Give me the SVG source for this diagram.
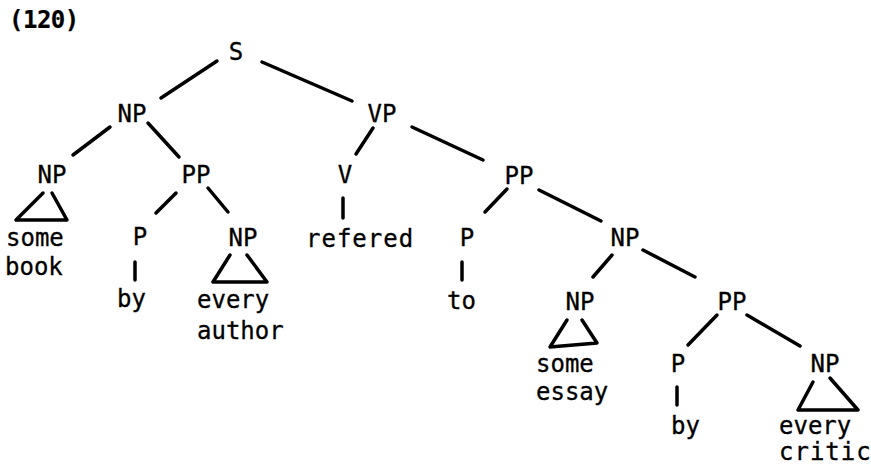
<svg xmlns="http://www.w3.org/2000/svg" width="871" height="470" viewBox="0 0 871 470">
  <style>
    text { font-family: "DejaVu Sans Mono", "Liberation Mono", monospace; font-size: 24px; fill: #000; stroke: #000; stroke-width: 0.3; }
    .cat { text-anchor: middle; }
    .word { text-anchor: start; }
    .edge { stroke: #000; stroke-width: 3.5; stroke-linecap: round; fill: none; }
    .tri { stroke: #000; stroke-width: 3.5; stroke-linejoin: round; stroke-linecap: round; fill: none; }
  </style>
  <rect width="871" height="470" fill="#fff"/>

  <text x="9" y="28" style="font-size:24px;font-weight:bold;stroke-width:0.2;letter-spacing:-0.5px">(120)</text>

  <!-- tree branches -->
  <g id="connectors">
    <line class="edge" x1="217" y1="61" x2="161" y2="98"/>
    <line class="edge" x1="262" y1="62" x2="352" y2="101"/>
    <line class="edge" x1="110" y1="127" x2="73" y2="155"/>
    <line class="edge" x1="148" y1="123" x2="179" y2="157"/>
    <line class="edge" x1="373" y1="128" x2="356" y2="154"/>
    <line class="edge" x1="412" y1="127" x2="483" y2="160"/>
    <line class="edge" x1="176" y1="193" x2="156" y2="213"/>
    <line class="edge" x1="208" y1="188" x2="228" y2="212"/>
    <line class="edge" x1="343" y1="198" x2="343" y2="218"/>
    <line class="edge" x1="507" y1="189" x2="485" y2="212"/>
    <line class="edge" x1="539" y1="190" x2="601" y2="221"/>
    <line class="edge" x1="135" y1="262" x2="135" y2="280"/>
    <line class="edge" x1="462" y1="262" x2="462" y2="280"/>
    <line class="edge" x1="612" y1="255" x2="593" y2="277"/>
    <line class="edge" x1="643" y1="250" x2="695" y2="277"/>
    <line class="edge" x1="717" y1="315" x2="688" y2="345"/>
    <line class="edge" x1="747" y1="315" x2="800" y2="346"/>
    <line class="edge" x1="677" y1="387" x2="677" y2="405"/>
  </g>

  <g id="S"><text class="cat" x="236" y="60">S</text></g>
  <g id="NP1"><text class="cat" x="132" y="122">NP</text></g>
  <g id="VP"><text class="cat" x="382" y="122">VP</text></g>

  <g id="NP2">
    <text class="cat" x="52" y="183">NP</text>
    <path class="tri" d="M43,193 L16,220 L67,220 L52,193"/>
    <text class="word" x="6" y="246">some</text>
    <text class="word" x="5" y="275">book</text>
  </g>

  <g id="PP1"><text class="cat" x="196" y="183">PP</text></g>
  <g id="V">
    <text class="cat" x="345" y="183">V</text>
    <text class="word" x="306" y="247" style="letter-spacing:1px">refered</text>
  </g>
  <g id="PP2"><text class="cat" x="519" y="184">PP</text></g>

  <g id="P1">
    <text class="cat" x="140" y="245">P</text>
    <text class="word" x="117" y="307">by</text>
  </g>

  <g id="NP3">
    <text class="cat" x="243" y="246">NP</text>
    <path class="tri" d="M230,255 L213,282 L267,282 L247,255"/>
    <text class="word" x="197" y="308">every</text>
    <text class="word" x="197" y="339">author</text>
  </g>

  <g id="P2">
    <text class="cat" x="467" y="246">P</text>
    <text class="word" x="447" y="309">to</text>
  </g>

  <g id="NP4"><text class="cat" x="625" y="246">NP</text></g>

  <g id="NP5">
    <text class="cat" x="580" y="310">NP</text>
    <path class="tri" d="M567,320 L550,347 L597,343 L582,320"/>
    <text class="word" x="536" y="372">some</text>
    <text class="word" x="536" y="400">essay</text>
  </g>

  <g id="PP3"><text class="cat" x="732" y="310">PP</text></g>

  <g id="P3">
    <text class="cat" x="678" y="372">P</text>
    <text class="word" x="671" y="434">by</text>
  </g>

  <g id="NP6">
    <text class="cat" x="825" y="372">NP</text>
    <path class="tri" d="M813,382 L798,410 L858,410 L830,378"/>
    <text class="word" x="779" y="434">every</text>
    <text class="word" x="779" y="460" style="letter-spacing:1px">critic</text>
  </g>
</svg>
